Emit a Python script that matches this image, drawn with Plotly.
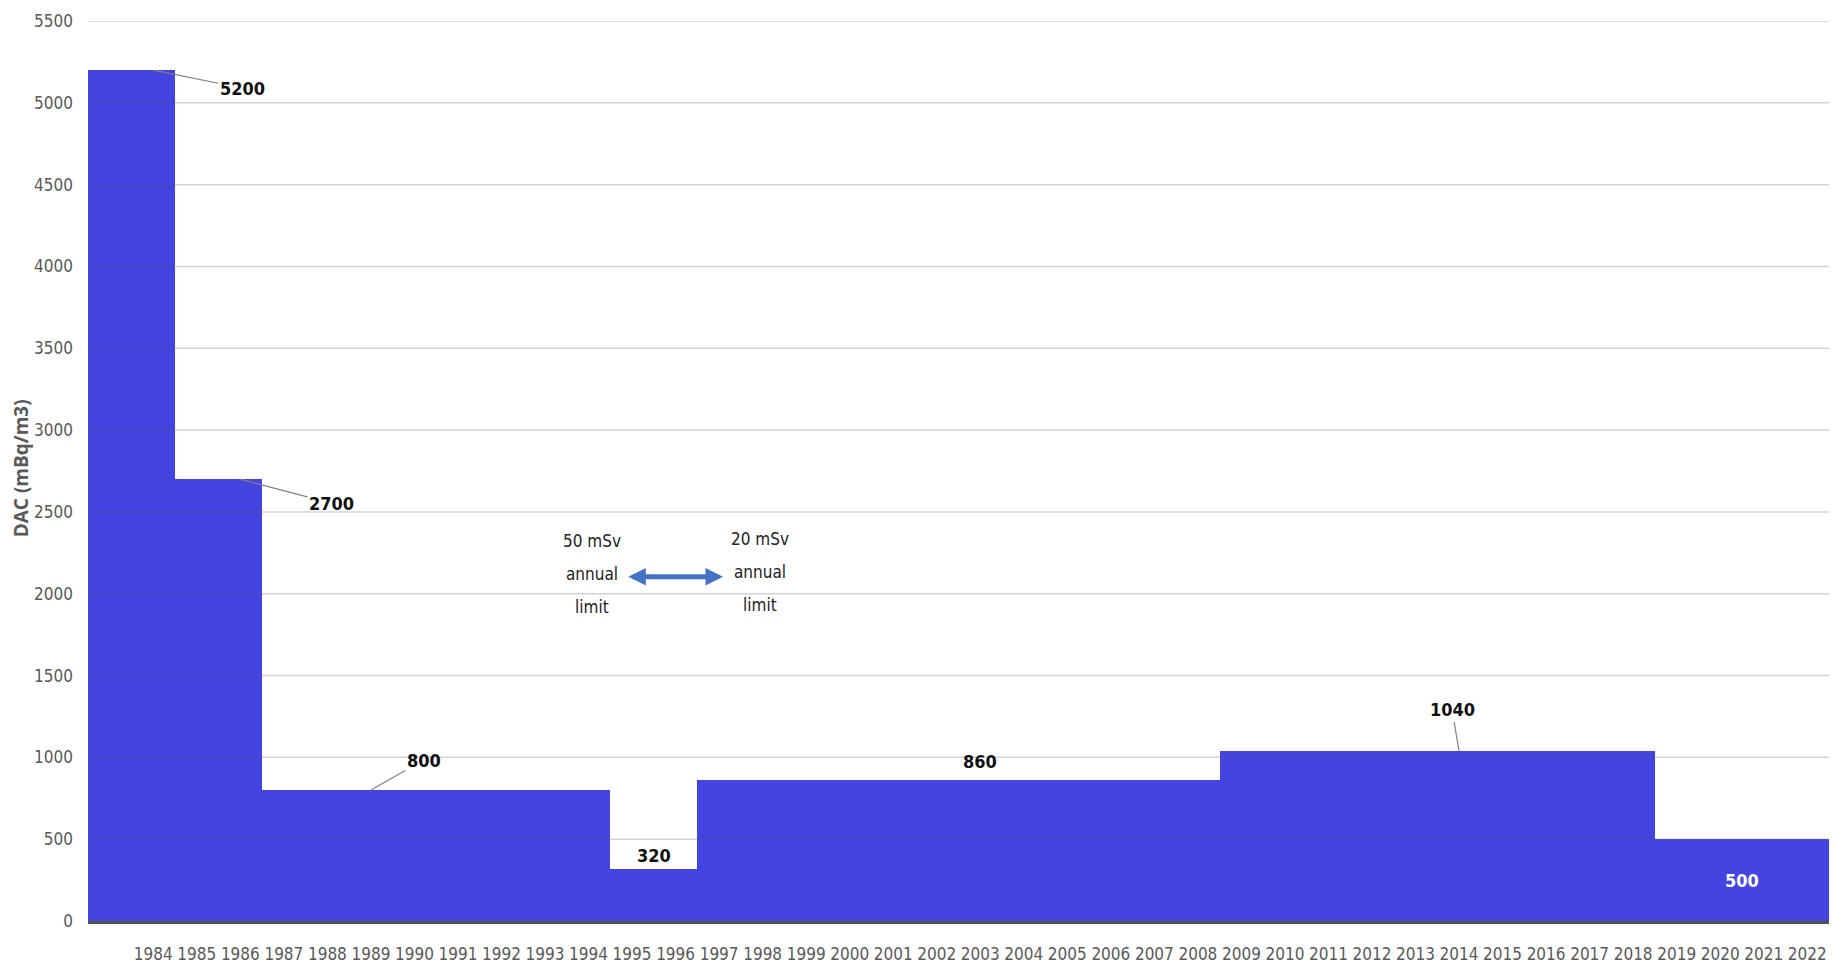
import plotly.graph_objects as go

# Derived air concentration limit by year (the first row has no printed label)
years = [1983, 1984, 1985, 1986, 1987, 1988, 1989, 1990, 1991, 1992,
         1993, 1994, 1995, 1996, 1997, 1998, 1999, 2000, 2001, 2002,
         2003, 2004, 2005, 2006, 2007, 2008, 2009, 2010, 2011, 2012,
         2013, 2014, 2015, 2016, 2017, 2018, 2019, 2020, 2021, 2022]
dac = [5200, 5200, 2700, 2700, 800, 800, 800, 800, 800, 800,
       800, 800, 320, 320, 860, 860, 860, 860, 860, 860,
       860, 860, 860, 860, 860, 860, 1040, 1040, 1040, 1040,
       1040, 1040, 1040, 1040, 1040, 1040, 500, 500, 500, 500]
tick_years = years[1:]
tick_labels = [str(y) for y in tick_years]
y_ticks = [0, 500, 1000, 1500, 2000, 2500, 3000, 3500, 4000, 4500, 5000, 5500]

value_of = dict(zip(years, dac))

FONT = "Liberation Sans Narrow, DejaVu Sans Condensed, Roboto Condensed, Arial Narrow, sans-serif"
FILL = "#4444E0"
GREY = "#595959"

fig = go.Figure()
fig.add_trace(go.Bar(
    x=years, y=dac, width=1,
    marker=dict(color=FILL, line=dict(width=0)),
    hoverinfo="x+y", showlegend=False,
))

# horizontal gridlines drawn over the filled area
shapes = []
for t in y_ticks:
    shapes.append(dict(type="line", xref="paper", x0=0, x1=1, yref="y", y0=t, y1=t,
                       line=dict(color="rgba(90,90,110,0.27)", width=1.5), layer="above"))

ann = []
lbl_font = dict(family=FONT, size=18, color="#111111")

def leader(year, ax, ay):
    ann.append(dict(x=year, y=value_of[year], xref="x", yref="y",
                    text=f"<b>{value_of[year]}</b>", showarrow=True, arrowhead=0,
                    arrowwidth=1.2, arrowcolor="#808080", ax=ax, ay=ay, font=lbl_font))

leader(1984, 89, 18)
leader(1986, 91, 24)
leader(1989, 53, -30)
leader(2014, -7, -41)

ann.append(dict(x=2003, y=value_of[2003], xref="x", yref="y", text=f"<b>{value_of[2003]}</b>",
                showarrow=False, yshift=19, font=lbl_font))
ann.append(dict(x=1995.5, y=value_of[1995], xref="x", yref="y", text=f"<b>{value_of[1995]}</b>",
                showarrow=False, yshift=13, font=lbl_font))
ann.append(dict(x=2020.5, y=value_of[2020] / 2, xref="x", yref="y", text=f"<b>{value_of[2020]}</b>",
                showarrow=False, font=dict(family=FONT, size=18, color="white")))

# annual dose limit change marker
note_font = dict(family=FONT, size=17, color="#222222")
for i, line in enumerate(["50 mSv", "annual", "limit"]):
    ann.append(dict(x=1994.09, y=2122, xref="x", yref="y", text=line, showarrow=False,
                    yshift=(1 - i) * 33, font=note_font))
for i, line in enumerate(["20 mSv", "annual", "limit"]):
    ann.append(dict(x=1997.94, y=2134, xref="x", yref="y", text=line, showarrow=False,
                    yshift=(1 - i) * 33, font=note_font))
ann.append(dict(x=1997.09, y=2104, ax=1994.88, ay=2104, xref="x", yref="y", axref="x", ayref="y",
                text="", showarrow=True, arrowhead=2, arrowside="end+start",
                arrowwidth=5, arrowsize=0.7, arrowcolor="#4472C4"))

# vertical axis title
ann.append(dict(x=0, y=0.503, xref="paper", yref="paper", xanchor="center", yanchor="middle",
                xshift=-67, text="<b>DAC (mBq/m3)</b>",
                textangle=-90, showarrow=False,
                font=dict(family="Open Sans, DejaVu Sans, sans-serif", size=19, color=GREY)))

fig.update_layout(
    width=1838, height=973,
    margin=dict(l=88, r=9, t=21, b=50),
    paper_bgcolor="white", plot_bgcolor="white",
    bargap=0,
    shapes=shapes, annotations=ann,
    xaxis=dict(range=[1982.5, 2022.5], tickvals=tick_years, ticktext=tick_labels,
               showgrid=False, zeroline=False, showline=True, linecolor="#4f4f5c", linewidth=3,
               ticks="", ticklabelstandoff=16,
               tickfont=dict(family=FONT, size=17, color=GREY)),
    yaxis=dict(range=[0, 5500], tickvals=y_ticks, showgrid=False, zeroline=False,
               ticks="", ticklabelstandoff=14,
               tickfont=dict(family=FONT, size=17, color=GREY)),
)

fig.write_html("out.html")
